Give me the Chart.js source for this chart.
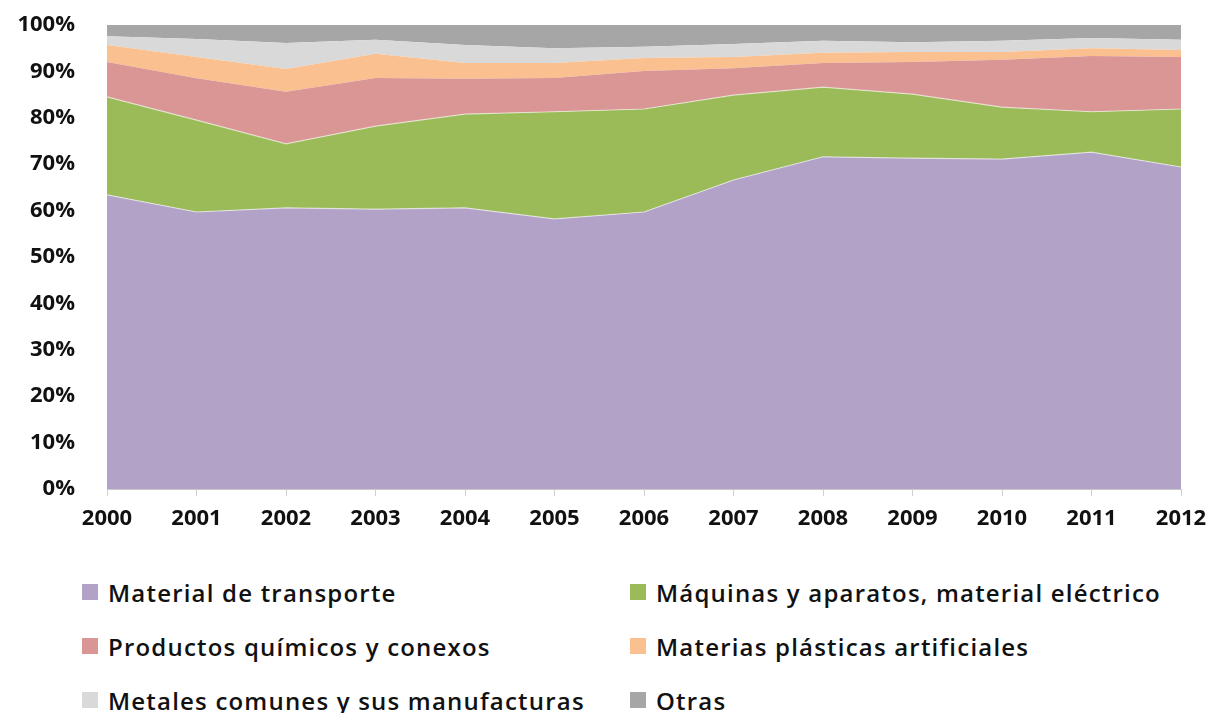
<!DOCTYPE html>
<html>
<head>
<meta charset="utf-8">
<script src="https://cdn.jsdelivr.net/npm/chart.js@4.4.1/dist/chart.umd.min.js"></script>
<style>
  html, body { margin: 0; padding: 0; background: #fff; }
  #wrap { position: relative; width: 1217px; height: 713px; }
  #cv { position: absolute; left: 0; top: 0; }
  .lg { position: absolute; display: flex; align-items: center; font-family: "Open Sans", sans-serif; font-weight: 600; font-size: 24px; letter-spacing: 1.2px; color: #111; white-space: nowrap; }
  .lg span.sw { display: inline-block; width: 16px; height: 16px; margin-right: 10px; }
</style>
</head>
<body>
<div id="wrap">
  <canvas id="cv" width="1217" height="560"></canvas>
  <div id="legend"></div>
</div>
<script>
const years = ["2000","2001","2002","2003","2004","2005","2006","2007","2008","2009","2010","2011","2012"];
const yTicks = [0,10,20,30,40,50,60,70,80,90,100];

const seriesNames = [
  "Material de transporte",
  "Máquinas y aparatos, material  eléctrico",
  "Productos químicos y conexos",
  "Materias plásticas  artificiales",
  "Metales comunes y sus manufacturas",
  "Otras"
];
const materialTransporte = [63.4, 59.7, 60.6, 60.3, 60.6, 58.2, 59.7, 66.6, 71.6, 71.3, 71.1, 72.6, 69.4];
const maquinasAparatos   = [21.1, 19.8, 13.8, 17.9, 20.2, 23.1, 22.2, 18.3, 15.0, 13.8, 11.2, 8.7, 12.5];
const productosQuimicos  = [7.5, 9.0, 11.2, 10.4, 7.6, 7.3, 8.2, 5.8, 5.2, 6.9, 10.2, 12.0, 11.2];
const materiasPlasticas  = [3.7, 4.6, 4.9, 5.2, 3.4, 3.2, 2.8, 2.4, 2.2, 2.2, 1.7, 1.7, 1.5];
const metalesComunes     = [1.9, 3.9, 5.6, 3.0, 3.9, 3.2, 2.4, 2.8, 2.6, 2.1, 2.4, 2.2, 2.2];
const otras              = [2.4, 3.0, 3.9, 3.2, 4.3, 5.0, 4.7, 4.1, 3.4, 3.7, 3.4, 2.8, 3.2];

const seriesValues = [materialTransporte, maquinasAparatos, productosQuimicos, materiasPlasticas, metalesComunes, otras];
const colors = ["#B3A2C7", "#9BBB59", "#D99694", "#FAC090", "#D9D9D9", "#A6A6A6"];

const datasets = seriesValues.map((vals, i) => ({
  label: seriesNames[i],
  data: vals,
  backgroundColor: colors[i],
  borderColor: i < 2 ? "rgba(255,255,255,0.55)" : colors[i],
  borderWidth: i < 2 ? 1.2 : 0,
  pointRadius: 0,
  tension: 0,
  fill: i === 0 ? "origin" : "-1"
}));

const tickFont = { family: "'Open Sans', sans-serif", weight: "bold", size: 22 };

new Chart(document.getElementById("cv"), {
  type: "line",
  data: { labels: years, datasets },
  options: {
    responsive: false,
    animation: false,
    layout: { padding: { top: 25, right: 36, left: 0, bottom: 0 } },
    plugins: { legend: { display: false }, tooltip: { enabled: false } },
    scales: {
      x: {
        offset: false,
        grid: { display: true, drawOnChartArea: false, drawTicks: true, tickLength: 7, color: "#D0D0D0" },
        border: { display: true, color: "#C8C8C8" },
        ticks: { font: tickFont, color: "#111", padding: 10, maxRotation: 0, autoSkip: false },
        afterFit: s => { s.height = 71; s.paddingLeft = 0; s.paddingRight = 0; }
      },
      y: {
        stacked: true,
        min: 0, max: 100,
        afterBuildTicks: s => { s.ticks = yTicks.map(v => ({ value: v })); },
        grid: { display: false, drawTicks: false },
        border: { display: false },
        ticks: { font: tickFont, color: "#111", padding: 32, callback: v => v + "%" },
        afterFit: s => { s.width = 107; s.paddingTop = 0; s.paddingBottom = 0; }
      }
    }
  }
});

// HTML legend built from the datasets
const legend = document.getElementById("legend");
const colX = [82, 630];
const rowY = [592, 646, 700];
seriesNames.forEach((name, i) => {
  const d = document.createElement("div");
  d.className = "lg";
  d.style.left = colX[i % 2] + "px";
  d.style.top = (rowY[Math.floor(i / 2)] - 15) + "px";
  d.style.height = "30px";
  d.innerHTML = '<span class="sw" style="background:' + colors[i] + '"></span>';
  const t = document.createElement("span");
  t.textContent = name;
  d.appendChild(t);
  legend.appendChild(d);
});
</script>
</body>
</html>
